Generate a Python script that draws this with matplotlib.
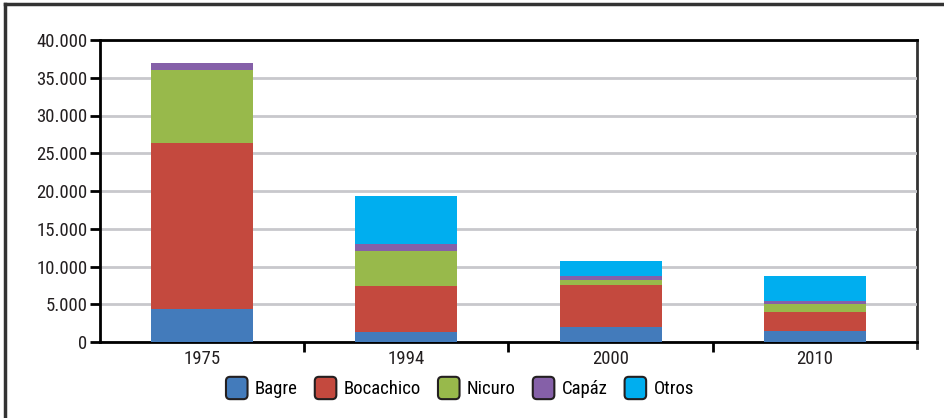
import matplotlib
matplotlib.use("Agg")
import matplotlib.pyplot as plt
from matplotlib.patches import Patch, FancyBboxPatch
from matplotlib.legend_handler import HandlerPatch
from matplotlib.lines import Line2D
from matplotlib.ticker import FuncFormatter
import numpy as np

years = ["1975", "1994", "2000", "2010"]
bagre = [4400, 1370, 1990, 1460]
bocachico = [22000, 6050, 5560, 2510]
nicuro = [9600, 4630, 710, 1110]
capaz = [1000, 950, 480, 350]
otros = [0, 6340, 1990, 3310]

names = ["Bagre", "Bocachico", "Nicuro", "Capáz", "Otros"]
colors = ["#437bbb", "#c4493e", "#98b94b", "#8560a8", "#00aeef"]

plt.rcParams['font.family'] = ['Roboto Condensed', 'Liberation Sans Narrow', 'DejaVu Sans']


class RoundHandler(HandlerPatch):
    # legend swatch with rounded corners and dark outline
    def create_artists(self, legend, orig_handle, xdescent, ydescent, width, height, fontsize, trans):
        p = FancyBboxPatch((-xdescent, -ydescent - 2), width, height + 4,
                           boxstyle="round,pad=0,rounding_size=3",
                           facecolor=orig_handle.get_facecolor(), edgecolor='#231f20',
                           linewidth=1.5, transform=trans)
        return [p]


fig = plt.figure(figsize=(9.45, 4.18), dpi=100)
ax = fig.add_axes([100 / 945, 1 - 342 / 418, 817 / 945, 302 / 418])

x = np.arange(len(years))
bottom = np.zeros(len(years))
for name, vals, c in zip(names, [bagre, bocachico, nicuro, capaz, otros], colors):
    ax.bar(x, vals, 0.5, bottom=bottom, color=c, label=name, zorder=3)
    bottom += np.array(vals)

ax.set_xlim(-0.5, len(years) - 0.5)
ax.set_ylim(0, 40000)
ax.set_yticks(range(0, 40001, 5000))
ax.yaxis.set_major_formatter(FuncFormatter(lambda v, p: f"{int(v):,}".replace(",", ".")))
ax.set_xticks(x)
ax.set_xticklabels(years)
ax.set_xticks(np.arange(0.5, len(years) - 0.5), minor=True)
ax.tick_params(axis='x', which='major', length=0, labelsize=13.5, pad=6, colors='#231f20')
ax.tick_params(axis='x', which='minor', length=7, width=2, direction='out', color='black')
ax.tick_params(axis='y', length=7, width=2, labelsize=13.5, pad=2, colors='black', labelcolor='#231f20')
ax.grid(axis='y', color='#c8c8cc', linewidth=2, zorder=0)
for s in ax.spines.values():
    s.set_linewidth(2)
    s.set_color('black')
ax.spines['right'].set_color('#333333')
ax.spines['right'].set_bounds(-800, 40000)
ax.spines['right'].set_zorder(0)

handles = [Patch(facecolor=c, label=n) for n, c in zip(names, colors)]
fig.legend(handles=handles, loc='center', bbox_to_anchor=(460 / 945, 1 - 389 / 418), ncol=5,
           frameon=False, fontsize=13.5, handlelength=1.15, handleheight=1.0, handletextpad=0.4,
           columnspacing=0.9, handler_map={Patch: RoundHandler()})

fig.add_artist(Line2D([5 / 945, 1], [1 - 4 / 418, 1 - 4 / 418], color='#333333', linewidth=2.5))
fig.add_artist(Line2D([5 / 945, 5 / 945], [0, 1 - 4 / 418], color='#333333', linewidth=2.5))

fig.savefig("out.png", dpi=100)
